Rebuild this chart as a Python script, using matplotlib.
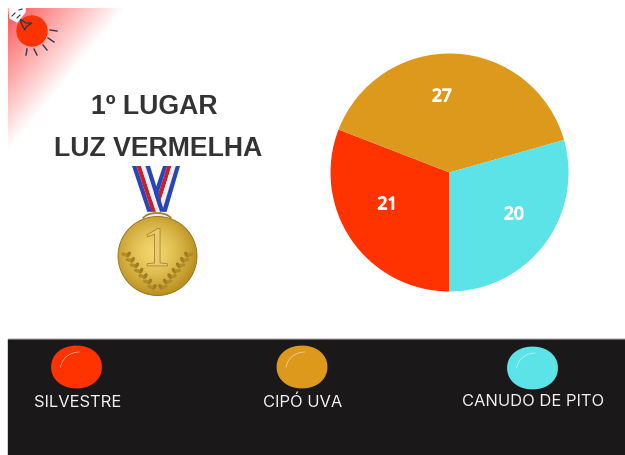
import numpy as np
import matplotlib
matplotlib.use("Agg")
import matplotlib.pyplot as plt
import matplotlib.patheffects as pe
from matplotlib.patches import Arc, Circle, Ellipse, Polygon, Rectangle

# chart data
names = ["SILVESTRE", "CIPÓ UVA", "CANUDO DE PITO"]
votes = [21, 27, 20]
colors = ["#ff3300", "#dd991b", "#5ce3e8"]
winner = ["1º LUGAR", "LUZ VERMELHA"]

fig = plt.figure(figsize=(6.25, 4.56), dpi=100, facecolor="white")

# full figure axes in pixels, y going down
bg = fig.add_axes([0, 0, 1, 1])
bg.set_axis_off()

# red light in the corner
xx, yy = np.meshgrid(np.linspace(0, 625, 626), np.linspace(0, 456, 457))
fade = np.clip(1 - ((xx - 8) / 117 + (yy - 9) / 143), 0, 1)
light = np.zeros(xx.shape + (4,))
light[..., 0] = 1.0
light[..., 3] = fade * 0.68
im = bg.imshow(light, extent=(0, 625, 456, 0), aspect="auto", zorder=1)
im.set_clip_path(Polygon([(8, 9), (125, 9), (8, 152)], transform=bg.transData))

# bulb
bg.add_patch(Circle((32, 32), 15, color=colors[0], zorder=2))
bg.add_patch(Polygon([(20, 20), (26, 24), (32, 24), (26, 28), (25, 31), (22, 26)], fill=False,
                     ec="#2b3a55", lw=1, zorder=3))
bg.add_patch(Polygon([(9, 9), (25, 9), (25, 13), (17, 23), (10, 19)], color="white", zorder=3))
rays = [((50, 31), (57, 32)), ((48, 39), (54, 43)), ((43, 46), (47, 51)),
        ((34, 50), (37, 56)), ((27, 50), (26, 56))]
for a, b in rays:
    bg.plot([a[0], b[0]], [a[1], b[1]], color="#2b3a55", lw=1, zorder=3)
for a, b in [((12, 17), (15, 14)), ((17, 19), (20, 16)), ((19, 11), (22, 10))]:
    bg.plot([a[0], b[0]], [a[1], b[1]], color="#2b3a55", lw=0.8, zorder=4)

# winner text
bg.text(154, 107.5, winner[0], ha="center", va="center", fontsize=19.2, fontweight="bold",
        family="Liberation Sans", color="#333333", zorder=3)
bg.text(158, 149.5, winner[1], ha="center", va="center", fontsize=19.2, fontweight="bold",
        family="Liberation Sans", color="#333333", zorder=3)


# medal ribbons
def ribbon(x0, x1, bx0, bx1, stripes, z):
    n = len(stripes)
    for i, c in enumerate(stripes):
        top_a = x0 + (x1 - x0) * i / n
        top_b = x0 + (x1 - x0) * (i + 1) / n
        bot_a = bx0 + (bx1 - bx0) * i / n
        bot_b = bx0 + (bx1 - bx0) * (i + 1) / n
        bg.add_patch(Polygon([(top_a, 167), (top_b, 167), (bot_b, 215), (bot_a, 215)],
                             color=c, lw=0, zorder=z))


ribbon(163, 180, 147, 166, ["#2747b8", "#c8202c", "#eeeef4", "#2747b8"], 3)
ribbon(132, 150, 148, 165, ["#2747b8", "#c8202c", "#eeeef4", "#2747b8"], 4)
bg.add_patch(Rectangle((146, 213), 21, 5, color="#eeeef4", zorder=5))
bg.add_patch(Arc((157, 222), 30, 16, theta1=190, theta2=350, ec="#a07d20", lw=1.2, zorder=5))

# gold disc
mx, my, mr = 157.5, 257, 39.5
dist = np.hypot(xx - mx + 4, yy - my + 4) / (mr * 1.15)
top = np.array([0.95, 0.84, 0.42])
low = np.array([0.72, 0.54, 0.10])
gold = top + (low - top) * np.clip(dist, 0, 1)[..., None] ** 1.5
disc = bg.imshow(gold, extent=(0, 625, 456, 0), aspect="auto", zorder=5)
disc.set_clip_path(Circle((mx, my), mr, transform=bg.transData))
bg.add_patch(Circle((mx, my), mr, fill=False, ec="#8f6f1c", lw=0.6, zorder=6))
bg.text(mx - 1, 252.5, "1", ha="center", va="center", fontsize=40, family="Liberation Serif",
        color="#e8cb6e", zorder=7,
        path_effects=[pe.withStroke(linewidth=1.2, foreground="#a8842a")])
for side in [-1, 1]:
    for k in range(7):
        stem_x = mx + side * (31 - k * 4.0 - k * k * 0.05)
        stem_y = 254 + k * 5.4
        bg.add_patch(Ellipse((stem_x - side * 2, stem_y + 1.5), 5, 2.2, angle=side * 55,
                             color="#a07b20", zorder=7))
        bg.add_patch(Ellipse((stem_x + side * 2, stem_y + 1.5), 5, 2.2, angle=side * -15,
                             color="#b08c2c", zorder=7))

# dark legend band
bg.add_patch(Rectangle((8, 340), 617, 116, color="#1a1819", zorder=2))
bg.plot([8, 625], [339.5, 339.5], color="#777777", lw=0.6, zorder=2)

blob_x = [76.5, 302, 532.5]
blob_y = [368, 368, 369]
label_x = [77.5, 302.5, 533.5]
label_y = [402.5, 402.5, 401.5]
theta = np.linspace(0, 2 * np.pi, 120)
for i, name in enumerate(names):
    # slightly squared circle
    px = blob_x[i] + 24.7 * np.sign(np.cos(theta)) * np.abs(np.cos(theta)) ** 0.95
    py = blob_y[i] + 20.7 * np.sign(np.sin(theta)) * np.abs(np.sin(theta)) ** 0.95
    bg.add_patch(Polygon(np.column_stack([px, py]), color=colors[i], zorder=3))
    bg.add_patch(Arc((blob_x[i] + 3, blob_y[i] + 2), 38, 34, theta1=185, theta2=270,
                     ec="white", lw=0.5, alpha=0.6, zorder=4))
    bg.text(label_x[i], label_y[i], name, ha="center", va="center", fontsize=11.9,
            family="Inter", color="#f2f2f2", zorder=4)

bg.set_xlim(0, 625)
bg.set_ylim(456, 0)

# pie
cx, cy, r = 449.5, 173.5, 119
ax = fig.add_axes([(cx - r) / 625, 1 - (cy + r) / 456, 2 * r / 625, 2 * r / 456])
_, _, pct = ax.pie(votes, colors=colors, startangle=270, counterclock=False, radius=1,
                   autopct=lambda p: str(int(round(p * sum(votes) / 100))),
                   textprops={"color": "white", "fontsize": 12.5, "family": "Noto Sans"})
label_pos = [(-0.521, -0.267), (-0.063, 0.640), (0.542, -0.351)]
for t, pos in zip(pct, label_pos):
    t.set_position(pos)
    t.set_path_effects([pe.withStroke(linewidth=0.9, foreground="white")])
ax.set_xlim(-1, 1)
ax.set_ylim(-1, 1)

fig.savefig("out.png", dpi=100)
